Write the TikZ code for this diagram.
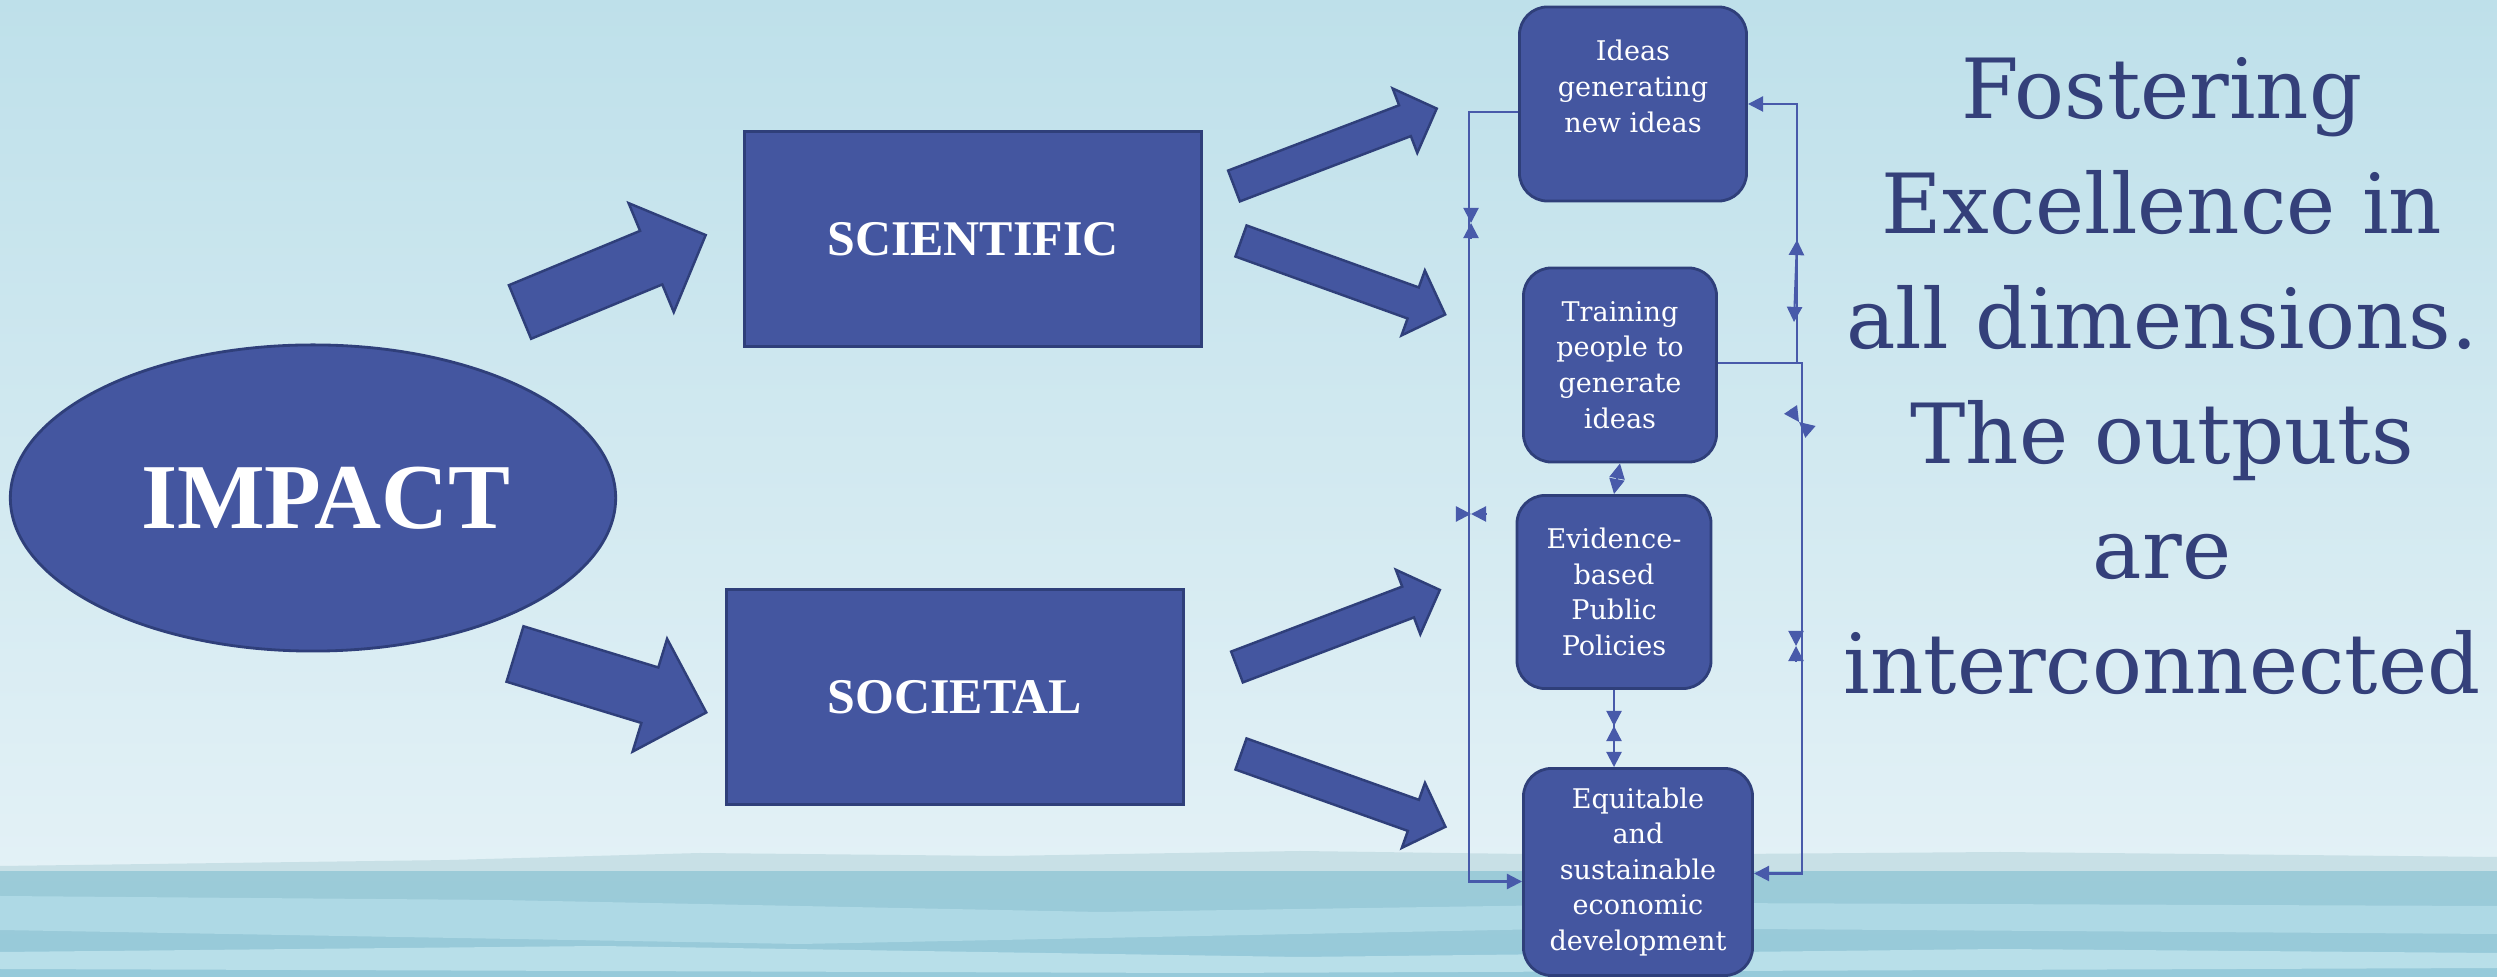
\documentclass[tikz,border=0pt]{standalone}
\usepackage{fontspec}
\usetikzlibrary{arrows.meta,calc,shapes.geometric}
\setmainfont{DejaVu Serif}
\newfontfamily\capsfont{Liberation Serif}

\definecolor{boxblue}{RGB}{68,86,160}
\definecolor{edgeblue}{RGB}{47,63,122}
\definecolor{linkblue}{RGB}{72,90,170}
\definecolor{titleblue}{RGB}{52,64,122}
\definecolor{skytop}{RGB}{190,224,234}
\definecolor{skylow}{RGB}{227,241,246}
\definecolor{haze}{RGB}{200,224,230}
\definecolor{waterdark}{RGB}{156,203,216}
\definecolor{waterdeep}{RGB}{150,202,218}
\definecolor{waterlite}{RGB}{174,217,229}
\definecolor{waterpale}{RGB}{184,223,233}

% fat arrow: x, y (tail centre), angle, length, half shaft, half head, head length
\newcommand\fatarrow[7]{%
  \filldraw[fatarr,shift={(#1,#2)},rotate=#3]
    (0,-#5) -- (#4-#7,-#5) -- (#4-#7,-#6) -- (#4,0)
    -- (#4-#7,#6) -- (#4-#7,#5) -- (0,#5) -- cycle;}
% one loose tip pointing at a coordinate, coming from an angle
\newcommand\tipat[2]{\draw[link,->] ($(#1)+(#2:15)$) -- (#1);}

\begin{document}
\begin{tikzpicture}
[x=0.01cm,y=-0.01cm,
 >={Triangle[length=4.3pt,width=4.3pt]},
 box/.style={rectangle,rounded corners=8pt,fill=boxblue,draw=edgeblue,
   line width=0.8pt,text=white,align=center,inner sep=0pt,
   font=\fontsize{7.7}{10.1}\selectfont},
 panel/.style={rectangle,fill=boxblue,draw=edgeblue,line width=0.8pt,
   text=white,minimum width=4.56cm,minimum height=2.15cm,
   font=\capsfont\bfseries\fontsize{14.2}{17}\selectfont},
 fatarr/.style={fill=boxblue,draw=edgeblue,line width=0.7pt},
 link/.style={draw=linkblue,line width=0.6pt}]
\useasboundingbox (0,0) rectangle (2497,977);

% sky and sea
\shade[top color=skytop,bottom color=skylow] (0,0) rectangle (2497,872);
\fill[haze] (0,866) -- (450,860) -- (700,853) -- (1000,856) -- (1300,851)
  -- (1600,855) -- (2000,852) -- (2497,857) -- (2497,872) -- (0,872) -- cycle;
\shade[top color=waterdark,bottom color=waterdeep] (0,872) rectangle (2497,977);
\fill[waterlite] (0,896) -- (500,900) -- (1100,912) -- (1700,903) -- (2497,906)
  -- (2497,934) -- (1600,928) -- (800,944) -- (0,930) -- cycle;
\fill[waterpale] (0,952) -- (600,946) -- (1300,957) -- (2000,949) -- (2497,953)
  -- (2497,968) -- (1200,973) -- (0,969) -- cycle;

% main shapes
\node[ellipse,fill=boxblue,draw=edgeblue,line width=0.8pt,text=white,
  minimum width=6.05cm,minimum height=3.06cm,
  font=\capsfont\bfseries\fontsize{26.4}{30}\selectfont] (impact) at (313,498)
  {\hspace*{0.26cm}IMPACT};
\node[panel] (sci) at (973,239) {SCIENTIFIC};
\node[panel] (soc) at (955,697) {SOCIETAL};

\node[box,minimum width=2.27cm,minimum height=1.94cm] (ideas) at (1633,104)
  {Ideas\\generating\\new ideas\\\mbox{}};
\node[box,minimum width=1.93cm,minimum height=1.94cm] (train) at (1620,365)
  {Training\\people to\\generate\\ideas};
\node[box,minimum width=1.94cm,minimum height=1.93cm] (evid) at (1614,592)
  {Evidence-\\based\\Public\\Policies};
\node[box,minimum width=2.29cm,minimum height=2.07cm] (equit) at (1638,872)
  {Equitable\\and\\sustainable\\economic\\development};

\node[inner sep=0pt,anchor=north,align=center,text=titleblue,
  font=\fontsize{23.6}{32.7}\selectfont] (motto) at (2162,57)
  {Fostering\\Excellence in\\all dimensions.\\The outputs\\are\\interconnected};

% block arrows
\fatarrow{520}{312}{22.5}{201}{29}{59}{59}
\fatarrow{515}{654}{-17}{200}{29}{59}{59}
\fatarrow{1234}{186}{20.9}{217}{16.5}{34.5}{34}
\fatarrow{1241}{241}{-19.8}{217}{16.5}{34.5}{34}
\fatarrow{1237}{667}{20.8}{217}{16.5}{34.5}{34}
\fatarrow{1241}{754}{-19.6}{217}{16.5}{34.5}{34}

% links between the outputs
\draw[link,->] ([yshift=-0.08cm]ideas.west) -- ++(-49,0)
  |- ([yshift=-0.095cm]equit.west);
\draw[link,->] ([yshift=0.02cm]train.east) -- ++(79,0) |- (ideas.east);
\draw[link,->] ([yshift=0.02cm]train.east) -- ++(84,0)
  |- ([yshift=-0.015cm]equit.east);
\draw[link,<->] (train.south) -- (evid.north);
\draw[link,->] (evid.south) -- (evid.south |- equit.north);

\coordinate (upA) at (1797,240);
\coordinate (upB) at (1794,322);
\draw[link,<->] (upB) -- (upA);

\coordinate (m1) at (1471,223);
\coordinate (m2) at (1471,514);
\coordinate (m3) at (1799,422);
\coordinate (m4) at (1796,646);
\coordinate (m5) at (1614,726);
\tipat{m1}{-90} \tipat{m1}{90}
\tipat{m2}{0} \tipat{m2}{180}
\tipat{m3}{236} \tipat{m3}{41}
\tipat{m4}{-90} \tipat{m4}{90}
\tipat{m5}{-90} \tipat{m5}{90}
\end{tikzpicture}
\end{document}
